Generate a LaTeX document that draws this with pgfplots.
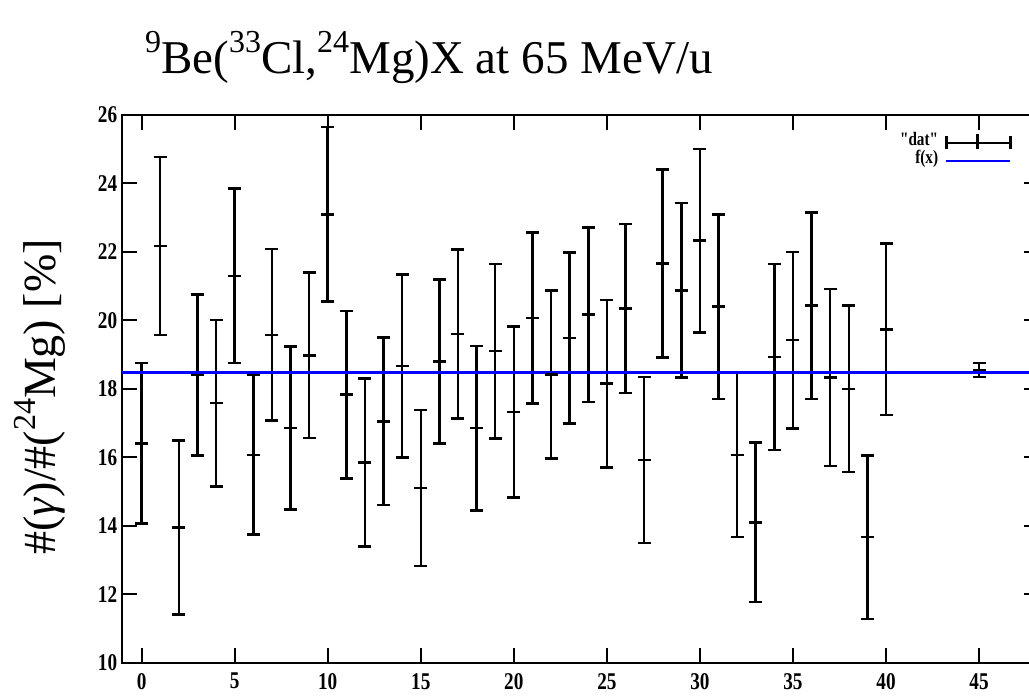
\documentclass[border=0pt]{standalone}
\usepackage{fontspec}
\setmainfont{Liberation Serif}
\newfontfamily\tickfont[FakeStretch=0.8]{Liberation Serif}
\usepackage{pgfplots}
\usepackage{pgfplotstable}
\pgfplotsset{compat=1.18}

\pgfplotstableread{
x y e
0 16.41 2.34
1 22.17 2.60
2 13.95 2.54
3 18.40 2.35
4 17.58 2.43
5 21.30 2.55
6 16.07 2.33
7 19.58 2.50
8 16.85 2.38
9 18.98 2.42
10 23.10 2.55
11 17.83 2.45
12 15.85 2.45
13 17.05 2.45
14 18.67 2.67
15 15.10 2.28
16 18.80 2.40
17 19.60 2.47
18 16.85 2.40
19 19.10 2.55
20 17.32 2.50
21 20.07 2.50
22 18.42 2.45
23 19.49 2.50
24 20.17 2.55
25 18.15 2.45
26 20.35 2.47
27 15.92 2.42
28 21.66 2.75
29 20.88 2.55
30 22.33 2.68
31 20.40 2.70
32 16.07 2.40
33 14.10 2.33
34 18.93 2.72
35 19.42 2.58
36 20.43 2.72
37 18.33 2.58
38 18.00 2.43
39 13.67 2.39
40 19.74 2.50
45 18.55 0.20
}\dattable

\newcommand\sups[1]{\raisebox{0.45em}{\fontsize{32}{32}\selectfont #1}}

\begin{document}
\begin{tikzpicture}
\useasboundingbox (0,0) rectangle (1029pt,696pt);
\clip (0,0) rectangle (1029pt,696pt);
\begin{axis}[
  at={(121.7pt,33.3pt)}, anchor=south west,
  scale only axis, width=916.9pt, height=547.7pt,
  xmin=-1.07, xmax=48.2, ymin=10, ymax=26,
  xtick={0,5,...,45}, ytick={10,12,...,26},
  minor tick num=0,
  tick align=inside,
  major tick length=15pt,
  axis line style={line width=2pt, black},
  every tick/.style={line width=2pt, black},
  /pgf/number format/assume math mode=true,
  tick label style={font=\tickfont\bfseries\fontsize{24}{24}\selectfont},
  yticklabel style={xshift=-1pt},
  xticklabel style={yshift=-7pt},
  legend style={draw=none, fill=none, at={(0.974,0.972)}, anchor=north east,
    font=\tickfont\bfseries\fontsize{19}{19}\selectfont, row sep=0pt, column sep=6pt,
    nodes={inner sep=1pt, text height=11pt, text depth=5pt}},
  legend plot pos=right,
  legend cell align=right,
]
\addplot[black, line width=2.5pt, only marks, mark=-, mark size=6.5pt,
  mark options={line width=2.5pt},
  legend image code/.code={
    \draw[black,line width=2.5pt] (0pt,0pt) -- (64pt,0pt);
    \draw[black,line width=2.5pt] (0pt,-6.5pt) -- (0pt,6.5pt);
    \draw[black,line width=2.5pt] (31pt,-6.5pt) -- (31pt,9pt);
    \draw[black,line width=2.5pt] (64pt,-6.5pt) -- (64pt,6.5pt);},
  error bars/.cd, y dir=both, y explicit,
  error bar style={line width=2.5pt, black},
  error mark options={rotate=90, line width=2.5pt, mark size=6.5pt, black},
  ] table[x=x, y=y, y error=e] {\dattable};
\addlegendentry{"dat"}
\addplot[blue, line width=2.5pt, mark=none,
  legend image code/.code={\draw[blue,line width=2.5pt] (0pt,0pt) -- (64pt,0pt);}]
  coordinates {(-1.07,18.48) (48.2,18.48)};
\addlegendentry{f(x)}
\end{axis}
\node[anchor=base west, inner sep=0pt, font=\fontsize{47}{50}\selectfont] at (145pt,622pt)
  {\sups{9}Be(\sups{33}Cl,\sups{24}Mg)X at 65 MeV/u};
\node[rotate=90, anchor=center, inner sep=0pt, font=\fontsize{46}{50}\selectfont] at (40pt,299pt)
  {\#(\textit{γ})/\#(\sups{24}Mg) [\%]};
\end{tikzpicture}
\end{document}
